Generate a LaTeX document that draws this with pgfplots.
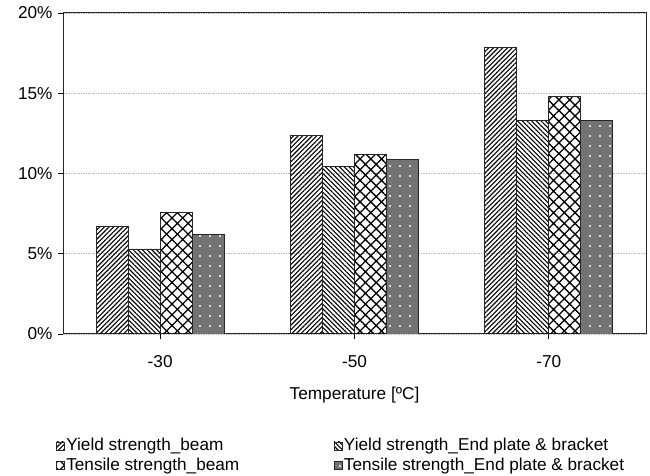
\documentclass[border=0pt]{standalone}
\usepackage{fontspec}
\setmainfont{Liberation Sans}
\usepackage{pgfplots}
\pgfplotsset{compat=1.18}
\usetikzlibrary{patterns.meta}

% relative change of strength at low temperature (%)
\pgfplotstableread{
x  ysb    ysep   tsb    tsep
0  6.7    5.3    7.6    6.2
1  12.35  10.45  11.2   10.85
2  17.85  13.3   14.8   13.3
}\strengthdata

\begin{document}
\begin{tikzpicture}[font=\fontsize{17.2}{20.5}\selectfont]
\path[use as bounding box] (0pt,0pt) rectangle (650pt,476pt);
\begin{axis}[
  at={(63pt,142pt)}, anchor=south west,
  scale only axis, width=583pt, height=321pt,
  ybar=0pt, bar width=32pt,
  xmin=-0.5, xmax=2.5, ymin=0, ymax=20,
  xtick=data, xticklabels={-30,-50,-70},
  ytick={0,5,10,15,20},
  yticklabels={0\%,5\%,10\%,15\%,20\%},
  tick align=outside, tick style={black, line width=0.8pt, major tick length=5pt},
  xtick pos=bottom, ytick pos=left,
  axis line style={line width=1pt, black!85},
  ymajorgrids, major grid style={gray!55, dash pattern=on 1.5pt off 1pt, line width=0.7pt},
  xlabel={Temperature [ºC]},
  xlabel style={yshift=-12pt},
  xticklabel style={yshift=-13pt},
  yticklabel style={xshift=-2pt},
  legend columns=2,
  legend cell align=left,
  legend style={at={(-0.012,-0.320)}, anchor=north west, draw=none, fill=none,
    inner sep=0pt, row sep=2.5pt,
    nodes={inner sep=1.5pt},
    /tikz/every even column/.append style={column sep=93pt}},
  legend image code/.code={\draw[#1, draw=black!85, line width=0.6pt] (0pt,-4.5pt) rectangle (8pt,3.5pt);},
  every axis plot/.append style={draw=black!85, line width=0.8pt},
]
\addplot[pattern={Lines[angle=45,distance=3.3pt,line width=1.1pt]}]
  table[x=x, y=ysb] {\strengthdata};
\addplot[pattern={Lines[angle=-45,distance=3.3pt,line width=1.1pt]}]
  table[x=x, y=ysep] {\strengthdata};
\addplot[pattern={Hatch[angle=45,distance=7.6pt,line width=1.3pt]}]
  table[x=x, y=tsb] {\strengthdata};
\addplot[fill=black!55,
  postaction={pattern={Dots[distance=10pt,radius=1.2pt]}, pattern color=white}]
  table[x=x, y=tsep] {\strengthdata};
\legend{Yield strength\_beam, Yield strength\_End plate \& bracket,
        Tensile strength\_beam, Tensile strength\_End plate \& bracket}
\end{axis}
\end{tikzpicture}
\end{document}
